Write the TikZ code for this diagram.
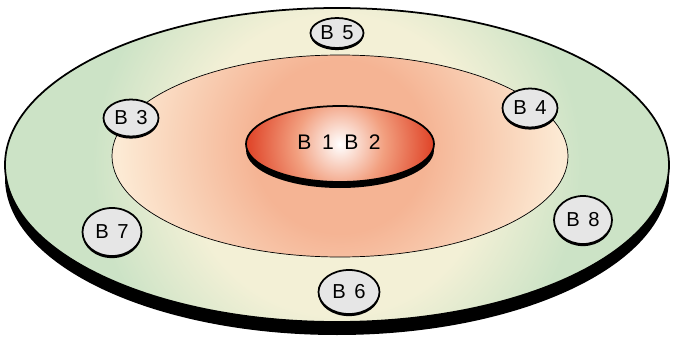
\documentclass[tikz,border=0pt]{standalone}
\usepackage{fontspec}
\setsansfont{Liberation Sans}
\usepackage{tikz}
\usetikzlibrary{shapes.geometric,shadows}
\usepackage{xcolor}
\definecolor{diskcream}{RGB}{243,240,214}
\definecolor{diskgreen}{RGB}{204,227,198}
\definecolor{peachcore}{RGB}{245,180,148}
\definecolor{peachedge}{RGB}{252,234,212}
\definecolor{redmid}{RGB}{242,160,128}
\definecolor{rededge}{RGB}{224,70,42}
\definecolor{bubblegrey}{RGB}{230,230,230}
% shading edge sits at 25bp
\pgfdeclareradialshading{ringshade}{\pgfpoint{0bp}{0bp}}{color(0bp)=(diskcream); color(11bp)=(diskcream); color(18bp)=(diskgreen); color(50bp)=(diskgreen)}
\pgfdeclareradialshading{zoneshade}{\pgfpoint{0bp}{0bp}}{color(0bp)=(peachcore); color(9bp)=(peachcore); color(23bp)=(peachedge); color(50bp)=(peachedge)}
\pgfdeclareradialshading{coreshade}{\pgfpoint{0bp}{0bp}}{color(0bp)=(white); color(11bp)=(redmid); color(23bp)=(rededge); color(50bp)=(rededge)}
\newcommand{\widespaces}[1]{\spaceskip=#1\relax}

\begin{document}
\begin{tikzpicture}[
    x=0.02cm, y=0.02cm,
    bubble/.style={ellipse, draw=black, line width=1pt, fill=bubblegrey, inner sep=0pt,
        font=\sffamily\fontsize{11.5}{13}\selectfont,
        execute at begin node={\widespaces{0.42em}},
        drop shadow={shadow xshift=0pt, shadow yshift=-1.2pt, opacity=1, fill=black}},
    corelabel/.style={font=\sffamily\fontsize{12}{14}\selectfont,
        execute at begin node={\widespaces{0.5em}}}
]
    \useasboundingbox (0,0) rectangle (674,339);

    % disk with its edge
    \fill[black] (337,161) ellipse [x radius=332, y radius=157];
    \begin{scope}
        \clip (337,174) ellipse [x radius=332, y radius=157];
        \shade[shading=ringshade] (337,174) circle (340);
    \end{scope}
    \draw[line width=1pt] (337,174) ellipse [x radius=332, y radius=157];

    % middle zone
    \begin{scope}
        \clip (340,183) ellipse [x radius=228, y radius=101];
        \shade[shading=zoneshade] (340,192) circle (240);
    \end{scope}
    \draw (340,183) ellipse [x radius=228, y radius=101];

    % core
    \fill[black] (340,189) ellipse [x radius=94, y radius=38];
    \begin{scope}
        \clip (340,195) ellipse [x radius=94, y radius=38];
        \shade[shading=coreshade] (340,195) circle (100);
    \end{scope}
    \draw[line width=1pt] (340,195) ellipse [x radius=94, y radius=38];
    \node[corelabel] (b12) at (339,197) {B 1 B 2};

    \node[bubble, minimum width=1.06cm, minimum height=0.6cm] (b5) at (337,306) {B 5};
    \node[bubble, minimum width=1.1cm, minimum height=0.74cm] (b3) at (131,221) {B 3};
    \node[bubble, minimum width=1.1cm, minimum height=0.78cm] (b4) at (530,231) {B 4};
    \node[bubble, minimum width=1.18cm, minimum height=0.96cm] (b7) at (112,107) {B 7};
    \node[bubble, minimum width=1.16cm, minimum height=0.96cm] (b8) at (583,119) {B 8};
    \node[bubble, minimum width=1.22cm, minimum height=0.88cm] (b6) at (349,47) {B 6};
\end{tikzpicture}
\end{document}
